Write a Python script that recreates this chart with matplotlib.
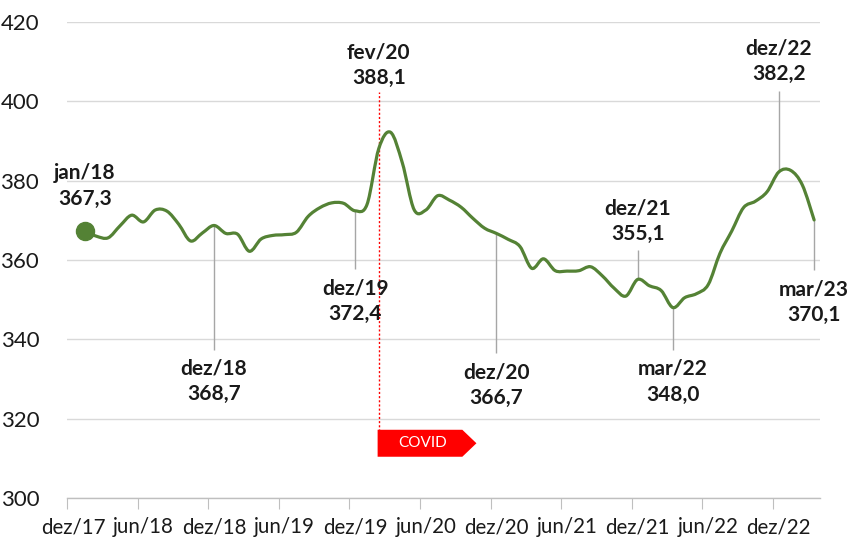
import numpy as np
import matplotlib
matplotlib.use("Agg")
import matplotlib.pyplot as plt
from matplotlib.path import Path
from matplotlib.patches import PathPatch, Polygon

# monthly values, jan/18 .. mar/23 (category 0 = dez/17 has no value)
months = ["jan/18", "fev/18", "mar/18", "abr/18", "mai/18", "jun/18", "jul/18", "ago/18", "set/18", "out/18",
          "nov/18", "dez/18", "jan/19", "fev/19", "mar/19", "abr/19", "mai/19", "jun/19", "jul/19", "ago/19",
          "set/19", "out/19", "nov/19", "dez/19", "jan/20", "fev/20", "mar/20", "abr/20", "mai/20", "jun/20",
          "jul/20", "ago/20", "set/20", "out/20", "nov/20", "dez/20", "jan/21", "fev/21", "mar/21", "abr/21",
          "mai/21", "jun/21", "jul/21", "ago/21", "set/21", "out/21", "nov/21", "dez/21", "jan/22", "fev/22",
          "mar/22", "abr/22", "mai/22", "jun/22", "jul/22", "ago/22", "set/22", "out/22", "nov/22", "dez/22",
          "jan/23", "fev/23", "mar/23"]
values = [367.3, 366.0, 365.6, 368.6, 371.3, 369.6, 372.6, 372.3, 369.0, 364.8,
          366.8, 368.7, 366.7, 366.5, 362.2, 365.3, 366.2, 366.4, 367.0, 371.0,
          373.2, 374.4, 374.3, 372.4, 374.0, 388.1, 392.2, 384.5, 372.7, 372.6,
          376.2, 375.1, 373.3, 370.5, 368.0, 366.7, 365.2, 363.4, 357.9, 360.3,
          357.3, 357.2, 357.3, 358.3, 356.0, 352.9, 350.9, 355.1, 353.5, 352.3,
          348.0, 350.5, 351.5, 353.8, 361.7, 367.3, 373.2, 374.8, 377.2, 382.2,
          382.6, 378.9, 370.1]

tick_labels = ["dez/17", "jun/18", "dez/18", "jun/19", "dez/19", "jun/20",
               "dez/20", "jun/21", "dez/21", "jun/22", "dez/22"]

# highlighted points: month, label text, where the text sits (value axis)
highlights = [("jan/18", "jan/18\n367,3", 378.7),
              ("dez/18", "dez/18\n368,7", 329.4),
              ("dez/19", "dez/19\n372,4", 349.7),
              ("fev/20", "fev/20\n388,1", 409.2),
              ("dez/20", "dez/20\n366,7", 328.5),
              ("dez/21", "dez/21\n355,1", 369.7),
              ("mar/22", "mar/22\n348,0", 329.3),
              ("dez/22", "dez/22\n382,2", 410.0),
              ("mar/23", "mar/23\n370,1", 349.4)]
covid_month = "fev/20"

GREEN = "#548235"
GRID = "#d9d9d9"
LEAD = "#a6a6a6"
TEXT = "#1a1a1a"


def smooth_path(x, y):
    # excel style smoothed line as cubic bezier segments
    pts = np.column_stack([x, y])
    p = np.vstack([pts[0], pts, pts[-1]])
    verts = [pts[0]]
    codes = [Path.MOVETO]
    for i in range(1, len(p) - 2):
        c1 = p[i] + (p[i + 1] - p[i - 1]) / 6.0
        c2 = p[i + 1] - (p[i + 2] - p[i]) / 6.0
        verts += [c1, c2, p[i + 1]]
        codes += [Path.CURVE4] * 3
    return Path(verts, codes)


x = np.arange(1, len(values) + 1)
y = np.array(values)

fig = plt.figure(figsize=(8.5, 5.37), dpi=100)
ax = fig.add_axes([67 / 850, 1 - 498 / 537, (820 - 67) / 850, (498 - 22) / 537])
ax.set_xlim(-0.5, 63.5)
ax.set_ylim(300, 420)

for s in ["top", "right", "left"]:
    ax.spines[s].set_visible(False)
ax.spines["bottom"].set_color("#bfbfbf")
ax.spines["bottom"].set_linewidth(1)

ax.set_yticks(np.arange(300, 421, 20))
ax.set_yticklabels([str(v) for v in range(300, 421, 20)], fontsize=16, fontfamily="Lato", color=TEXT)
ax.tick_params(axis="y", length=0, pad=20)
ax.grid(axis="y", color=GRID, linewidth=1)
ax.set_axisbelow(True)

major = np.arange(0, 61, 6)
ax.set_xticks(major - 0.5)
ax.set_xticklabels([])
ax.tick_params(axis="x", which="major", length=8, color="#bfbfbf", direction="out")
ax.set_xticks(major, minor=True)
ax.set_xticklabels(tick_labels, minor=True, fontsize=14.8, fontfamily="Lato", color=TEXT)
ax.tick_params(axis="x", which="minor", length=0, pad=14)

ax.add_patch(PathPatch(smooth_path(x, y), facecolor="none", edgecolor=GREEN, linewidth=2.3,
                       capstyle="round", joinstyle="round", zorder=3))

ax.plot([x[0]], [y[0]], "o", color=GREEN, markersize=13, zorder=4)

# covid marker
ci = months.index(covid_month) + 1
ax.vlines(ci, 317, 402.4, color="red", linestyles=(0, (1.5, 1.5)), linewidth=1, zorder=2)
arrow = Polygon([[ci - 0.1, 317.2], [ci + 7.1, 317.2], [ci + 8.3, 313.8], [ci + 7.1, 310.4], [ci - 0.1, 310.4]],
                closed=True, facecolor="red", edgecolor="none", zorder=5)
ax.add_patch(arrow)
ax.text(ci + 3.7, 313.8, "COVID", color="white", fontsize=11, fontfamily="Lato",
        ha="center", va="center", zorder=6)

for m, txt, ty in highlights:
    i = months.index(m)
    xi, yi = x[i], y[i]
    ax.text(xi, ty, txt, ha="center", va="center", fontsize=15, fontweight="bold",
            fontfamily="Lato", color=TEXT, linespacing=1.35, zorder=6)
    if m in ("jan/18", "fev/20"):
        continue
    if ty < yi:
        ax.vlines(xi, ty + 8.0, yi, color=LEAD, linewidth=1, zorder=2)
    else:
        ax.vlines(xi, yi, ty - 7.3, color=LEAD, linewidth=1, zorder=2)

fig.savefig("out.png", dpi=100)
